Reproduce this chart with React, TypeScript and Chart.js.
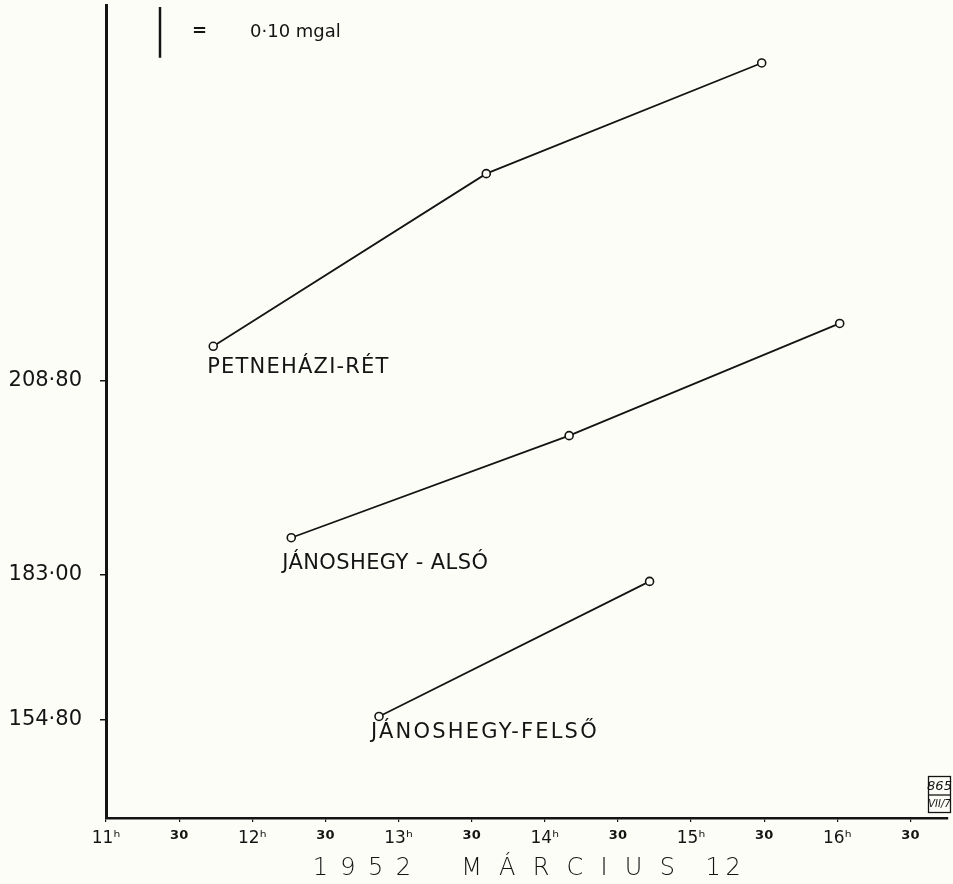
import React, { useEffect, useRef } from "react";
import { Chart, registerables } from "chart.js";

Chart.register(...registerables);

// ---- data ----
const seriesNames = ["PETNEHÁZI-RÉT", "JÁNOSHEGY - ALSÓ", "JÁNOSHEGY-FELSŐ"];

const petnehaziTimes = ["11:44", "13:36", "15:29"];
const petnehaziValues = [0.929, 1.269, 1.487];

const alsoTimes = ["12:16", "14:10", "16:01"];
const alsoValues = [0.552, 0.753, 0.974];

const felsoTimes = ["12:52", "14:43"];
const felsoValues = [0.2, 0.466];

const yTickValues = [0.861, 0.479, 0.194];
const yTickLabels = ["208·80", "183·00", "154·80"];

const xTickValues = [11, 11.5, 12, 12.5, 13, 13.5, 14, 14.5, 15, 15.5, 16, 16.5];
const xTickLabels = ["11ʰ", "30", "12ʰ", "30", "13ʰ", "30", "14ʰ", "30", "15ʰ", "30", "16ʰ", "30"];

const scaleBarValue = 0.1;
const scaleBarLabel = "0·10 mgal";
const xTitleWords = ["1952", "MÁRCIUS", "12"];
const stampTop = "865";
const stampBottom = "VII/7";

const X_MIN = 11;
const X_MAX = 16.753;
const Y_MIN = 0;
const Y_MAX = 1.6;

const toHours = (t: string) => {
  const [h, m] = t.split(":").map(Number);
  return h + m / 60;
};

const toPoints = (times: string[], values: number[]) =>
  times.map((t, i) => ({ x: toHours(t), y: values[i] }));

// spaced-out lettering of the axis caption
const THIN = "\u2009";
const EN = "\u2002";
const xTitle =
  xTitleWords[0].split("").join(" " + THIN) +
  "     " + EN +
  xTitleWords[1].split("").join(" " + THIN + THIN) +
  "    " +
  xTitleWords[2].split("").join(THIN);

const INK = "#141414";
const PAPER = "#fdfdf8";

const annotationPlugin = {
  id: "annotations",
  afterDatasetsDraw(chart: any) {
    const ctx = chart.ctx as CanvasRenderingContext2D;
    const xs = chart.scales.x;
    const ys = chart.scales.y;
    ctx.save();
    ctx.fillStyle = INK;
    ctx.strokeStyle = INK;

    // series labels placed under each series' first point
    const placements = [
      [-6, 27, 1.2],
      [-9, 31, 0.4],
      [-8, 22, 2.2],
    ];
    chart.data.datasets.forEach((ds: any, i: number) => {
      const p = ds.data[0];
      const px = xs.getPixelForValue(p.x);
      const py = ys.getPixelForValue(p.y);
      ctx.font = "21px 'DejaVu Sans'";
      (ctx as any).letterSpacing = placements[i][2] + "px";
      ctx.textAlign = "left";
      ctx.textBaseline = "alphabetic";
      ctx.fillText(seriesNames[i], px + placements[i][0], py + placements[i][1]);
    });
    (ctx as any).letterSpacing = "0px";

    // scale bar: 0.10 mgal
    const barTop = 7;
    const barLen = ys.getPixelForValue(0) - ys.getPixelForValue(scaleBarValue);
    ctx.lineWidth = 2.5;
    ctx.beginPath();
    ctx.moveTo(160, barTop);
    ctx.lineTo(160, barTop + barLen);
    ctx.stroke();
    ctx.textBaseline = "middle";
    ctx.font = "bold 18px 'DejaVu Sans'";
    ctx.fillText("=", 192, 31);
    ctx.font = "18px 'DejaVu Sans'";
    ctx.fillText(scaleBarLabel, 250, 32);

    // archive stamp
    ctx.lineWidth = 1.3;
    ctx.strokeRect(928.5, 776.5, 22, 36);
    ctx.beginPath();
    ctx.moveTo(928.5, 795);
    ctx.lineTo(950.5, 795);
    ctx.stroke();
    ctx.textAlign = "center";
    ctx.font = "italic 13px 'DejaVu Sans'";
    ctx.fillText(stampTop, 939.5, 786.5);
    ctx.font = "italic 10px 'DejaVu Sans'";
    ctx.fillText(stampBottom, 939.5, 804.5);

    ctx.restore();
  },
};

export default function App() {
  const canvasRef = useRef<HTMLCanvasElement | null>(null);

  useEffect(() => {
    if (!canvasRef.current) return;
    const lineStyle = {
      borderColor: INK,
      borderWidth: 1.8,
      pointRadius: 4,
      pointBorderWidth: 1.6,
      pointBorderColor: INK,
      pointBackgroundColor: PAPER,
      fill: false,
      tension: 0,
    };
    const chart = new Chart(canvasRef.current, {
      type: "line",
      data: {
        datasets: [
          { label: seriesNames[0], data: toPoints(petnehaziTimes, petnehaziValues), ...lineStyle },
          { label: seriesNames[1], data: toPoints(alsoTimes, alsoValues), ...lineStyle },
          { label: seriesNames[2], data: toPoints(felsoTimes, felsoValues), ...lineStyle },
        ],
      },
      options: {
        animation: false,
        responsive: false,
        devicePixelRatio: 1,
        layout: { padding: 0 },
        plugins: {
          legend: { display: false },
          tooltip: { enabled: false },
          title: { display: false },
        },
        scales: {
          x: {
            type: "linear",
            min: X_MIN,
            max: X_MAX,
            afterBuildTicks: (scale: any) => {
              scale.ticks = xTickValues.map((v) => ({ value: v }));
            },
            afterFit: (scale: any) => {
              scale.height = 66;
              scale.paddingLeft = 0;
              scale.paddingRight = 0;
            },
            border: { display: true, color: INK, width: 2.5 },
            grid: {
              display: true,
              drawOnChartArea: false,
              drawTicks: true,
              tickLength: 4,
              color: INK,
              lineWidth: 1.2,
            },
            ticks: {
              autoSkip: false,
              maxRotation: 0,
              padding: 6,
              color: INK,
              callback: (_v: any, i: number) => xTickLabels[i],
              font: (c: any) =>
                xTickLabels[c.index] && xTickLabels[c.index].includes("ʰ")
                  ? { family: "'DejaVu Sans'", size: 17 }
                  : { family: "'DejaVu Sans'", size: 13, weight: "bold" },
            },
            title: {
              display: true,
              text: xTitle,
              color: INK,
              font: { family: "'DejaVu Sans'", size: 24, weight: "200", lineHeight: 1.25 },
              padding: { top: 0, bottom: 0 },
            },
          },
          y: {
            type: "linear",
            min: Y_MIN,
            max: Y_MAX,
            afterBuildTicks: (scale: any) => {
              scale.ticks = yTickValues.map((v) => ({ value: v }));
            },
            afterFit: (scale: any) => {
              scale.width = 106;
              scale.paddingTop = 0;
              scale.paddingBottom = 0;
            },
            border: { display: true, color: INK, width: 3 },
            grid: {
              display: true,
              drawOnChartArea: false,
              drawTicks: true,
              tickLength: 6,
              color: INK,
              lineWidth: 1.5,
            },
            ticks: {
              autoSkip: false,
              padding: 18,
              color: INK,
              font: { family: "'DejaVu Sans'", size: 21 },
              callback: (_v: any, i: number) => yTickLabels[i],
            },
          },
        },
      } as any,
      plugins: [annotationPlugin],
    });
    return () => chart.destroy();
  }, []);

  return (
    <div
      style={{
        position: "fixed",
        left: 0,
        top: 0,
        width: 953,
        height: 884,
        background: PAPER,
      }}
    >
      <canvas ref={canvasRef} width={953} height={884} style={{ display: "block" }} />
    </div>
  );
}
